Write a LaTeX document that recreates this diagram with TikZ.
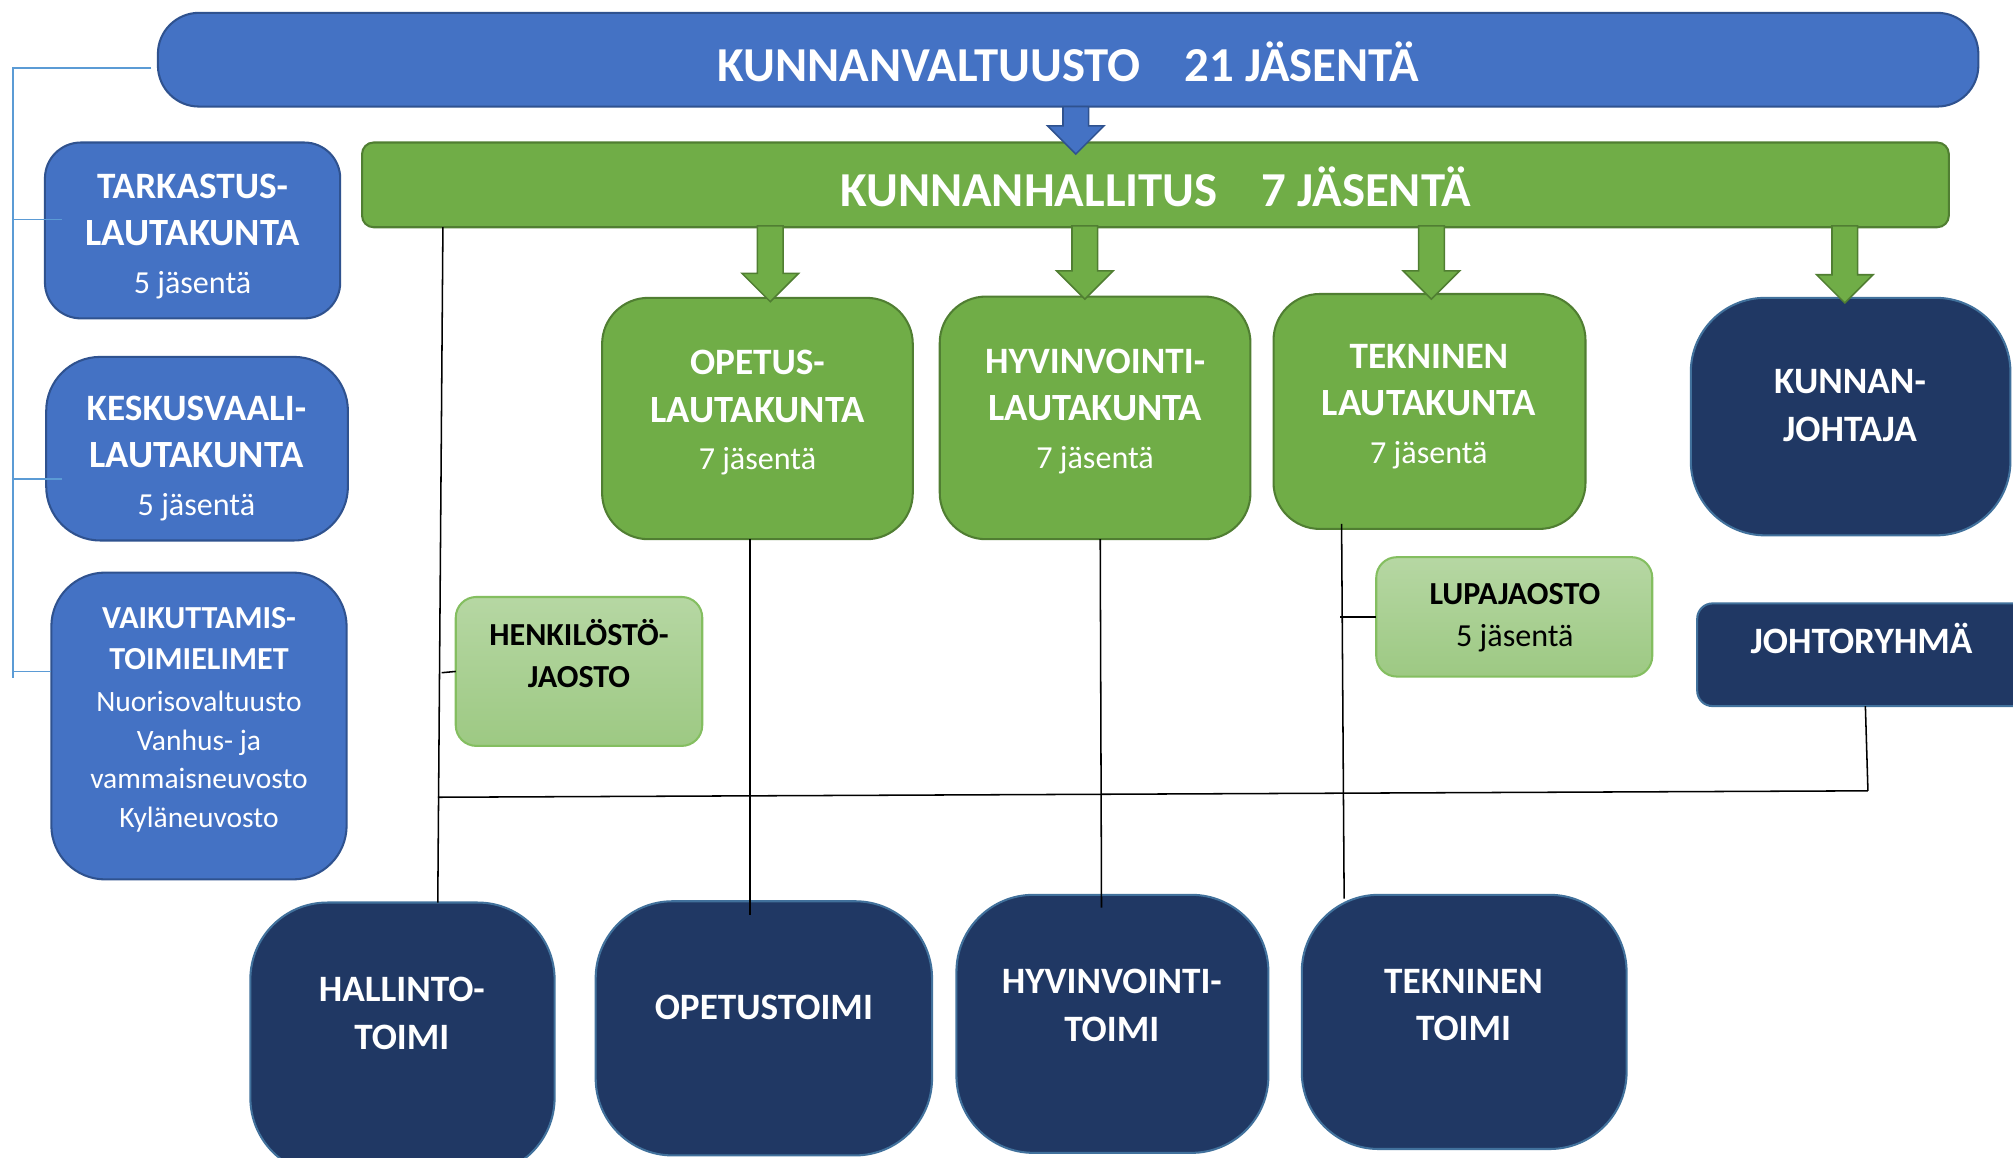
\documentclass[tikz,border=0pt]{standalone}
\usepackage{fontspec}
\setmainfont{Carlito}
\usetikzlibrary{calc}
\definecolor{bfill}{HTML}{4472C4}
\definecolor{bline}{HTML}{2F528F}
\definecolor{gfill}{HTML}{70AD47}
\definecolor{gline}{HTML}{507E32}
\definecolor{nfill}{HTML}{203864}
\definecolor{nline}{HTML}{41719C}
\definecolor{lgtop}{HTML}{B6D7A3}
\definecolor{lgbot}{HTML}{9DC983}
\definecolor{lgline}{HTML}{84BE60}
\definecolor{brk}{HTML}{5B9BD5}
\newcommand\blockarr[3]{\path[#1] let \p1=#2, \p2=#3 in
  (\x1-10pt,\y1) -- (\x1+10pt,\y1) -- (\x1+10pt,\y2+22pt) -- (\x1+22pt,\y2+22pt)
  -- (\x1,\y2) -- (\x1-22pt,\y2+22pt) -- (\x1-10pt,\y2+22pt) -- cycle;}
\newcommand\smreg[1]{{\mdseries\fontsize{25}{31}\selectfont #1}}
\newcommand\vreg[1]{{\mdseries\fontsize{23}{30}\selectfont #1}}
\newcommand\lautk{{\fontsize{30}{37}\selectfont LAUTAKUNTA}}
\tikzset{
  basebox/.style={inner sep=0pt, outer sep=0pt, line width=1.6pt},
  bbox/.style={basebox, fill=bfill, draw=bline},
  gbox/.style={basebox, fill=gfill, draw=gline},
  nbox/.style={basebox, fill=nfill, draw=nline},
  lgbox/.style={basebox, top color=lgtop, bottom color=lgbot, draw=lgline},
  titletxt/.style={text=white, font=\bfseries\fontsize{38}{44}\selectfont, inner sep=0pt, anchor=base},
  wtxt/.style={text=white, align=center, inner sep=0pt, font=\bfseries\fontsize{29}{37}\selectfont},
  ktxt/.style={text=black, align=center, inner sep=0pt, font=\bfseries\fontsize{25}{33}\selectfont},
  vtxt/.style={text=white, align=center, inner sep=0pt, font=\bfseries\fontsize{25}{32.5}\selectfont},
  conn/.style={draw=black, line width=1.2pt},
  brkline/.style={draw=brk, line width=1.3pt},
  barrow/.style={fill=bfill, draw=bline, line width=1.2pt},
  garrow/.style={fill=gfill, draw=gline, line width=1.2pt}
}
\begin{document}
\begin{tikzpicture}[x=1pt,y=-1pt]
\clip (0,0) rectangle (1568,902);
\fill[white] (0,0) rectangle (1568,902);

% top level
\node[bbox, rounded corners=32pt, minimum width=1418pt, minimum height=73pt] (val) at (832,46.5) {};
\node[gbox, rounded corners=9pt, minimum width=1236pt, minimum height=66pt] (hal) at (900,144) {};
\blockarr{barrow}{($(val.south)+(6,0)$)}{($(hal.north)+(-62,9)$)}
\node[titletxt] (tval) at (832,63.5) {KUNNANVALTUUSTO\hspace{0.9em}21 JÄSENTÄ};
\node[titletxt] (thal) at (900,160.5) {KUNNANHALLITUS\hspace{0.9em}7 JÄSENTÄ};

% left column
\node[bbox, rounded corners=28pt, minimum width=230pt, minimum height=137pt] (tark) at (150,179.5) {};
\node[bbox, rounded corners=42pt, minimum width=235pt, minimum height=143pt] (kesk) at (153.5,349.5) {};
\node[bbox, rounded corners=42pt, minimum width=230pt, minimum height=239pt] (vaik) at (155,565.5) {};
\node[wtxt] (ttark) at (150,184) {TARKASTUS-\\\lautk\\\smreg{5 jäsentä}};
\node[wtxt] (tkesk) at (153,357) {KESKUSVAALI-\\\lautk\\\smreg{5 jäsentä}};
\node[vtxt] (tvaik) at (155,560.5) {VAIKUTTAMIS-\\TOIMIELIMET\\\vreg{Nuorisovaltuusto}\\[-2.5pt]\vreg{Vanhus- ja}\\[-2.5pt]\vreg{vammaisneuvosto}\\[-2.5pt]\vreg{Kyläneuvosto}};

% boards
\node[gbox, rounded corners=36pt, minimum width=242pt, minimum height=188pt] (opl) at (590,326) {};
\node[gbox, rounded corners=36pt, minimum width=242pt, minimum height=189pt] (hyl) at (853,325.5) {};
\node[gbox, rounded corners=36pt, minimum width=243pt, minimum height=183pt] (tel) at (1113.5,320.5) {};
\node[nbox, rounded corners=58pt, minimum width=249pt, minimum height=185pt] (kj) at (1441.5,324.5) {};
\node[wtxt] (topl) at (590,321.5) {OPETUS-\\\lautk\\\smreg{7 jäsentä}};
\node[wtxt] (thyl) at (853,320.5) {HYVINVOINTI-\\\lautk\\\smreg{7 jäsentä}};
\node[wtxt] (ttel) at (1113,316.5) {TEKNINEN\\\lautk\\\smreg{7 jäsentä}};
\node[wtxt] (tkj) at (1441,316) {KUNNAN-\\JOHTAJA};

% arrows from hallitus
\blockarr{garrow}{($(hal.south)+(-300,-1)$)}{($(opl.north)+(10,3)$)}
\blockarr{garrow}{($(hal.south)+(-55,-1)$)}{($(hyl.north)+(-8,2)$)}
\blockarr{garrow}{($(hal.south)+(215,-1)$)}{($(tel.north)+(1.5,4)$)}
\blockarr{garrow}{($(hal.south)+(537,-1)$)}{($(kj.north)+(-4.5,4)$)}

% sections
\node[lgbox, rounded corners=16pt, minimum width=192pt, minimum height=116pt] (henk) at (451,523) {};
\node[ktxt] (thenk) at (451,509) {HENKILÖSTÖ-\\JAOSTO};
\node[lgbox, rounded corners=16pt, minimum width=215pt, minimum height=93pt] (lupa) at (1179.5,480.5) {};
\node[ktxt] (tlupa) at (1180,481) {LUPAJAOSTO\\{\mdseries 5 jäsentä}};
\node[nbox, rounded corners=12pt, minimum width=264pt, minimum height=80pt] (joht) at (1454,510) {};
\node[wtxt, anchor=base] (tjoht) at (1450,509.3) {JOHTORYHMÄ};

% offices
\node[nbox, rounded corners=60pt, minimum width=237pt, minimum height=212pt] (hat) at (313.5,809) {};
\node[nbox, rounded corners=60pt, minimum width=262pt, minimum height=198pt] (opt) at (595,801) {};
\node[nbox, rounded corners=60pt, minimum width=243pt, minimum height=201pt] (hyt) at (866.5,797.5) {};
\node[nbox, rounded corners=60pt, minimum width=253pt, minimum height=198pt] (tet) at (1140.5,796) {};
\node[wtxt] (thall) at (313,789.5) {HALLINTO-\\TOIMI};
\node[wtxt, anchor=base] (topt) at (595,794.3) {OPETUSTOIMI};
\node[wtxt] (thyt) at (866,783) {HYVINVOINTI-\\TOIMI};
\node[wtxt] (ttet) at (1140,783) {TEKNINEN\\TOIMI};

% black connectors
\coordinate (busL) at (341,621);
\coordinate (busR) at (1455,616);
\coordinate (hjt) at (344,524);
\coordinate (ljt) at (1044,480.5);
\draw[conn] ($(hal.south west)+(63,0)$) -- ($(hat.north)+(27.5,0)$);
\draw[conn] (hjt) -- (henk.west);
\draw[conn] (busL) -- (busR);
\draw[conn] ($(joht.south)+(-1,0)$) -- (busR);
\draw[conn] ($(kj.south)+(4.5,0)$) -- ($(kj.south)+(4.5,0)$ |- joht.north);
\draw[conn] ($(opl.south)+(-6,0)$) -- ($(opt.north)+(-11,11)$);
\draw[conn] ($(hyl.south)+(4,0)$) -- ($(hyt.north)+(-8.5,10)$);
\draw[conn] ($(tel.south)+(-68.5,-4)$) -- ($(tet.north)+(-93.5,3)$);
\draw[conn] (ljt) -- (lupa.west);

% left bracket
\coordinate (brTop) at (10,53);
\coordinate (brBot) at (10,528);
\draw[brkline] ($(val.west)+(-5,6.5)$) -- (brTop) -- (brBot);
\draw[brkline] (10,171) -- ($(tark.west)+(13,-8.5)$);
\draw[brkline] (10,373) -- ($(kesk.west)+(12,23.5)$);
\draw[brkline] (10,523) -- ($(vaik.west)+(0,-42.5)$);
\end{tikzpicture}
\end{document}
